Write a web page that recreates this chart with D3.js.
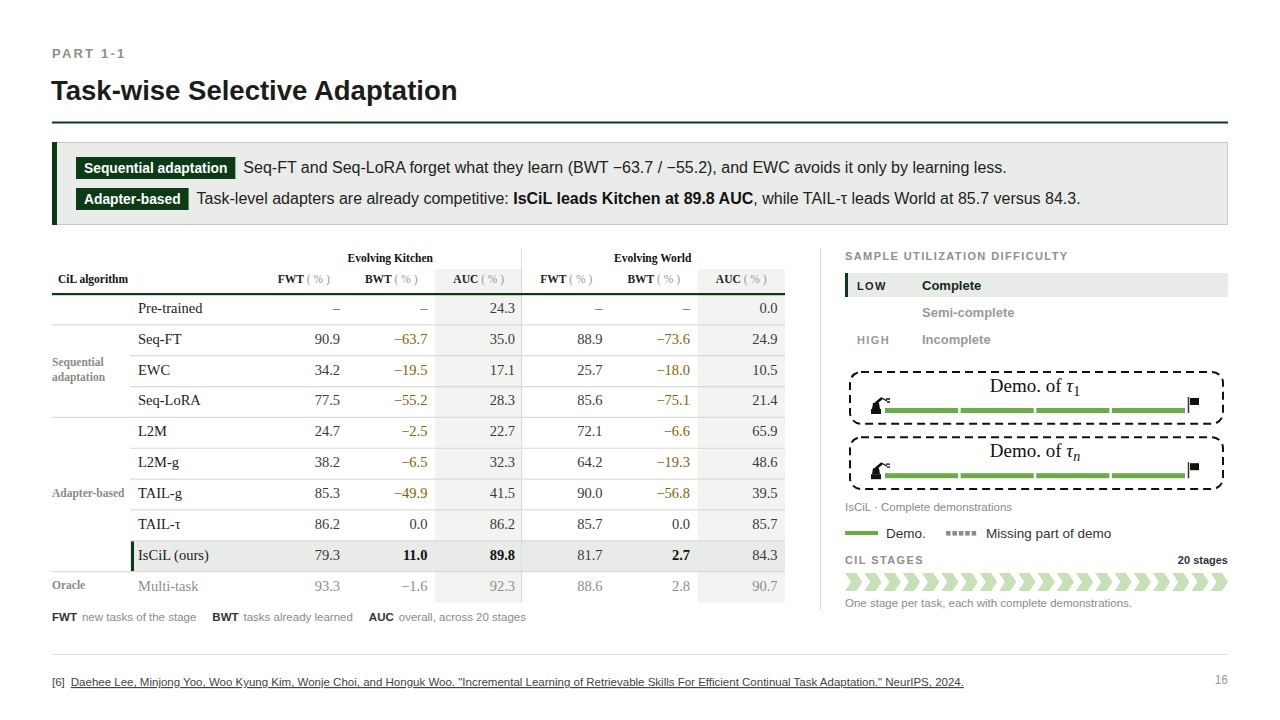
<!DOCTYPE html>
<html>
<head>
<meta charset="utf-8">
<script src="https://cdn.jsdelivr.net/npm/d3@7"></script>
<style>
  body { margin: 0; background: #fff; }
  svg { display: block; font-family: "Liberation Sans", Arial, sans-serif; }
</style>
</head>
<body>
<script>
// table data
const methods = ["Pre-trained", "Seq-FT", "EWC", "Seq-LoRA", "L2M", "L2M-g", "TAIL-g", "TAIL-τ", "IsCiL (ours)", "Multi-task"];
const groupNames = [["Sequential", "adaptation"], ["Adapter-based"], ["Oracle"]];
const groupRows = [["Seq-FT", "Seq-LoRA"], ["L2M", "IsCiL (ours)"], ["Multi-task", "Multi-task"]];
const metricCols = ["kFWT", "kBWT", "kAUC", "wFWT", "wBWT", "wAUC"];
const metricLabels = ["FWT", "BWT", "AUC", "FWT", "BWT", "AUC"];
const envNames = ["Evolving Kitchen", "Evolving World"];
const kitchenFWT = [null, 90.9, 34.2, 77.5, 24.7, 38.2, 85.3, 86.2, 79.3, 93.3];
const kitchenBWT = [null, -63.7, -19.5, -55.2, -2.5, -6.5, -49.9, 0.0, 11.0, -1.6];
const kitchenAUC = [24.3, 35.0, 17.1, 28.3, 22.7, 32.3, 41.5, 86.2, 89.8, 92.3];
const worldFWT = [null, 88.9, 25.7, 85.6, 72.1, 64.2, 90.0, 85.7, 81.7, 88.6];
const worldBWT = [null, -73.6, -18.0, -75.1, -6.6, -19.3, -56.8, 0.0, 2.7, 2.8];
const worldAUC = [0.0, 24.9, 10.5, 21.4, 65.9, 48.6, 39.5, 85.7, 84.3, 90.7];
const boldCells = ["IsCiL (ours)|kBWT", "IsCiL (ours)|kAUC", "IsCiL (ours)|wBWT"];
const legendTerms = [["FWT", "new tasks of the stage"], ["BWT", "tasks already learned"], ["AUC", "overall, across 20 stages"]];

// right panel data
const difficultyLevels = ["Complete", "Semi-complete", "Incomplete"];
const difficultyTags = ["LOW", "", "HIGH"];
const demoTasks = ["1", "n"];
const demoParts = ["demo", "demo", "demo", "demo"];
const stageCount = 20;

const W = 1280, H = 720;
const green = "#0c3a17", grey = "#8c8c84", serif = "'Liberation Serif', 'Times New Roman', serif";

const svg = d3.select("body").append("svg").attr("width", W).attr("height", H);

// ---- header
svg.append("text").attr("x", 52).attr("y", 58).text("PART 1-1")
  .style("font-size", "13px").style("font-weight", "bold").style("letter-spacing", "2.2px").attr("fill", "#8f8f86");
svg.append("text").attr("x", 51).attr("y", 100).text("Task-wise Selective Adaptation")
  .style("font-size", "27.5px").style("font-weight", "bold").attr("fill", "#1b1d1b");
svg.append("rect").attr("x", 52).attr("y", 121.5).attr("width", 1176).attr("height", 2).attr("fill", green);

// ---- callout
svg.append("rect").attr("x", 52.5).attr("y", 142.5).attr("width", 1175).attr("height", 82)
  .attr("fill", "#eaece9").attr("stroke", "#c6cac5");
svg.append("rect").attr("x", 52).attr("y", 142).attr("width", 5).attr("height", 83).attr("fill", green);

function badge(x, y, label) {
  const g = svg.append("g");
  const t = g.append("text").attr("x", x + 8).attr("y", y + 15.5).text(label)
    .style("font-size", "13.8px").style("font-weight", "bold").attr("fill", "#fff");
  const w = t.node().getComputedTextLength();
  g.insert("rect", "text").attr("x", x).attr("y", y).attr("width", w + 16).attr("height", 22).attr("fill", green);
  return x + w + 16;
}
let bx = badge(76, 157, "Sequential adaptation");
svg.append("text").attr("x", bx + 8).attr("y", 173).style("font-size", "16px").attr("fill", "#222")
  .text("Seq-FT and Seq-LoRA forget what they learn (BWT −63.7 / −55.2), and EWC avoids it only by learning less.");
bx = badge(76, 188, "Adapter-based");
const l2 = svg.append("text").attr("x", bx + 8).attr("y", 204).style("font-size", "16px").attr("fill", "#222");
l2.append("tspan").text("Task-level adapters are already competitive: ");
l2.append("tspan").style("font-weight", "bold").attr("fill", "#111").text("IsCiL leads Kitchen at 89.8 AUC");
l2.append("tspan").text(", while TAIL-τ leads World at 85.7 versus 84.3.");

// ---- table
const values = { kFWT: kitchenFWT, kBWT: kitchenBWT, kAUC: kitchenAUC, wFWT: worldFWT, wBWT: worldBWT, wAUC: worldAUC };
const x = d3.scaleBand().domain(metricCols).range([260, 785]);
const y = d3.scaleBand().domain(methods).range([294, 602.5]);
const tLeft = 52, mLeft = 130, tRight = 785;
const tbl = svg.append("g").style("font-family", serif);

// shaded AUC columns
tbl.selectAll("rect.auc").data(["kAUC", "wAUC"]).enter().append("rect")
  .attr("x", d => x(d)).attr("y", 269).attr("width", x.bandwidth()).attr("height", 602.5 - 269).attr("fill", "#f3f3f2");

// highlight row
tbl.append("rect").attr("x", mLeft).attr("y", y("IsCiL (ours)")).attr("width", tRight - mLeft).attr("height", y.bandwidth())
  .attr("fill", "#e9ebe8");
tbl.append("rect").attr("x", mLeft + 1).attr("y", y("IsCiL (ours)")).attr("width", 3).attr("height", y.bandwidth()).attr("fill", green);

// env separator
tbl.append("line").attr("x1", x("wFWT") - 1).attr("x2", x("wFWT") - 1).attr("y1", 248).attr("y2", 602.5)
  .attr("stroke", "#dcdcdc");

// env headers
envNames.forEach((e, i) => {
  const c0 = x(metricCols[i * 3]), c1 = x(metricCols[i * 3 + 2]) + x.bandwidth();
  tbl.append("text").attr("x", (c0 + c1) / 2 - 1).attr("y", 262).attr("text-anchor", "middle")
    .style("font-size", "11.5px").style("font-weight", "bold").attr("fill", "#111").text(e);
});
tbl.append("text").attr("x", 58).attr("y", 283).style("font-size", "11.5px").style("font-weight", "bold")
  .attr("fill", "#111").text("CiL algorithm");
const hd = tbl.selectAll("text.hd").data(metricCols).enter().append("text")
  .attr("x", d => x(d) + x.bandwidth() / 2).attr("y", 283).attr("text-anchor", "middle").style("font-size", "11.5px");
hd.append("tspan").style("font-weight", "bold").attr("fill", "#222").text((d, i) => metricLabels[i]);
hd.append("tspan").attr("fill", "#999").text(" ( % )");
tbl.append("rect").attr("x", tLeft).attr("y", 293).attr("width", tRight - tLeft).attr("height", 2.2).attr("fill", green);

// row lines
const fullAfter = ["Pre-trained", "Seq-LoRA", "IsCiL (ours)"];
tbl.selectAll("line.row").data(methods.slice(0, -1)).enter().append("line")
  .attr("x1", d => fullAfter.includes(d) ? tLeft : mLeft).attr("x2", tRight)
  .attr("y1", d => y(d) + y.bandwidth()).attr("y2", d => y(d) + y.bandwidth())
  .attr("stroke", "#d9dbd9").attr("stroke-width", 1.2);

// group labels
groupNames.forEach((lines, i) => {
  const top = y(groupRows[i][0]), bot = y(groupRows[i][1]) + y.bandwidth();
  const cy = (top + bot) / 2 - (lines.length - 1) * 7.5 + 2;
  const t = tbl.append("text").attr("x", tLeft).attr("y", cy).style("font-size", "11.5px")
    .style("font-weight", "bold").attr("fill", grey);
  lines.forEach((s, j) => t.append("tspan").attr("x", tLeft).attr("dy", j ? 15 : 0).text(s));
});

// method names
tbl.selectAll("text.m").data(methods).enter().append("text")
  .attr("x", 138).attr("y", d => y(d) + y.bandwidth() / 2 + 3.5).style("font-size", "14.5px")
  .attr("fill", d => d === "Multi-task" ? "#8e8e8e" : "#1c1c1c").text(d => d);

// cells
const cells = [];
methods.forEach((m, r) => metricCols.forEach(c => cells.push({ m, c, v: values[c][r] })));
const fmt = v => v == null ? "–" : (v < 0 ? "−" + d3.format(".1f")(-v) : d3.format(".1f")(v));
tbl.selectAll("text.cell").data(cells).enter().append("text")
  .attr("x", d => x(d.c) + x.bandwidth() - 7.5).attr("y", d => y(d.m) + y.bandwidth() / 2 + 3.5)
  .attr("text-anchor", "end").style("font-size", "14.5px")
  .style("font-weight", d => boldCells.includes(d.m + "|" + d.c) ? "bold" : "normal")
  .attr("fill", d => {
    if (d.m === "Multi-task") return "#8e8e8e";
    if (d.v == null) return "#666";
    if (boldCells.includes(d.m + "|" + d.c)) return "#111";
    if (d.c.endsWith("BWT") && d.v < 0) return "#8a6100";
    return "#3a3a3a";
  })
  .text(d => fmt(d.v));

// legend under table
const lg = svg.append("text").attr("x", 52).attr("y", 621).style("font-size", "11.5px");
legendTerms.forEach((t, i) => {
  lg.append("tspan").attr("dx", i ? 16 : 0).style("font-weight", "bold").attr("fill", "#333").text(t[0]);
  lg.append("tspan").attr("dx", 5).attr("fill", "#8a8a8a").text(t[1]);
});

// ---- right panel
svg.append("line").attr("x1", 820.5).attr("x2", 820.5).attr("y1", 248).attr("y2", 610).attr("stroke", "#dcdcdc");
const px = 845, pr = 1228;
const capStyle = s => s.style("font-size", "11px").style("font-weight", "bold").style("letter-spacing", "1.4px");
capStyle(svg.append("text").attr("x", px).attr("y", 260).attr("fill", "#8f8f86").text("SAMPLE UTILIZATION DIFFICULTY"));

const dy = d3.scaleBand().domain(difficultyLevels).range([273, 354]);
svg.append("rect").attr("x", px).attr("y", dy("Complete")).attr("width", pr - px).attr("height", 24).attr("fill", "#e9ebe8");
svg.append("rect").attr("x", px).attr("y", dy("Complete")).attr("width", 3).attr("height", 24).attr("fill", green);
difficultyLevels.forEach((lv, i) => {
  const cy = dy(lv) + 12 + 5;
  if (difficultyTags[i]) capStyle(svg.append("text").attr("x", 857).attr("y", cy - 0.5)
    .attr("fill", i === 0 ? "#1a2a1c" : "#999").style("letter-spacing", "1px").text(difficultyTags[i]));
  svg.append("text").attr("x", 922).attr("y", cy).style("font-size", "13px").style("font-weight", "bold")
    .attr("fill", i === 0 ? "#0f2a14" : "#9a9a9a").text(lv);
});

// demo boxes
const demoY = d3.scaleBand().domain(demoTasks).range([371, 489]).paddingInner(0.19);
const segX = d3.scaleBand().domain(d3.range(demoParts.length)).range([885, 1185]).paddingInner(0.035);
demoTasks.forEach(t => {
  const g = svg.append("g").attr("transform", `translate(0,${demoY(t)})`);
  g.append("rect").attr("x", 850).attr("y", 1).attr("width", 373).attr("height", demoY.bandwidth() - 1)
    .attr("rx", 11).attr("fill", "none").attr("stroke", "#111").attr("stroke-width", 2).attr("stroke-dasharray", "8 5");
  const tt = g.append("text").attr("x", 1035).attr("y", 21).attr("text-anchor", "middle")
    .style("font-family", serif).style("font-size", "19px").attr("fill", "#111");
  tt.append("tspan").text("Demo. of ");
  tt.append("tspan").style("font-style", "italic").text("τ");
  tt.append("tspan").attr("dy", 4).style("font-size", "14px").style("font-style", t === "n" ? "italic" : "normal").text(t);
  g.selectAll("rect.seg").data(demoParts).enter().append("rect")
    .attr("x", (d, i) => segX(i)).attr("y", 37).attr("width", segX.bandwidth()).attr("height", 5).attr("fill", "#6aac45");
  // robot arm
  const r = g.append("g").attr("transform", "translate(870,24)");
  r.append("rect").attr("x", 1).attr("y", 14).attr("width", 10).attr("height", 5).attr("fill", "#111");
  r.append("path").attr("d", "M2 14 L3 8 L9 8 L10 14 Z").attr("fill", "#111");
  r.append("path").attr("d", "M5 9 L12 3").attr("stroke", "#111").attr("stroke-width", 2.6);
  r.append("path").attr("d", "M12 3 L17 6 M16 4 L20 4 M17 7 L20 7").attr("stroke", "#111").attr("stroke-width", 1.3).attr("fill", "none");
  // flag
  g.append("line").attr("x1", 1188.5).attr("x2", 1188.5).attr("y1", 26).attr("y2", 42).attr("stroke", "#333").attr("stroke-width", 1.5);
  g.append("rect").attr("x", 1190).attr("y", 27).attr("width", 9).attr("height", 7).attr("fill", "#111");
});

svg.append("text").attr("x", px).attr("y", 511).style("font-size", "11.5px").attr("fill", "#8a8a8a")
  .text("IsCiL · Complete demonstrations");

// demo legend
svg.append("rect").attr("x", px).attr("y", 531).attr("width", 33).attr("height", 4).attr("fill", "#6aac45");
svg.append("text").attr("x", 886).attr("y", 538).style("font-size", "13.5px").attr("fill", "#333").text("Demo.");
svg.selectAll("rect.miss").data(d3.range(5)).enter().append("rect")
  .attr("x", d => 946 + d * 6.4).attr("y", 531).attr("width", 4.6).attr("height", 4.6).attr("fill", "#8c8c8c");
svg.append("text").attr("x", 986).attr("y", 538).style("font-size", "13.5px").attr("fill", "#333").text("Missing part of demo");

// stages
capStyle(svg.append("text").attr("x", px).attr("y", 564).attr("fill", "#8f8f86").text("CIL STAGES"));
svg.append("text").attr("x", pr).attr("y", 564).attr("text-anchor", "end").style("font-size", "11px")
  .style("font-weight", "bold").attr("fill", "#333").text(stageCount + " stages");
const sx = d3.scaleBand().domain(d3.range(stageCount)).range([px, pr]).paddingInner(0.1);
const cw = sx.bandwidth(), ch = 18, notch = 6;
svg.selectAll("path.chev").data(d3.range(stageCount)).enter().append("path")
  .attr("d", d => {
    const x0 = sx(d), y0 = 573;
    return `M${x0} ${y0} L${x0 + cw - notch} ${y0} L${x0 + cw} ${y0 + ch / 2} L${x0 + cw - notch} ${y0 + ch} L${x0} ${y0 + ch} L${x0 + notch} ${y0 + ch / 2} Z`;
  })
  .attr("fill", "#c6e1b6");
svg.append("text").attr("x", px).attr("y", 607).style("font-size", "11.5px").attr("fill", "#8a8a8a")
  .text("One stage per task, each with complete demonstrations.");

// ---- footer
svg.append("line").attr("x1", 52).attr("x2", 1228).attr("y1", 654.5).attr("y2", 654.5).attr("stroke", "#dde0dd");
const ft = svg.append("text").attr("x", 52).attr("y", 686).style("font-size", "11.5px").attr("fill", "#444");
ft.append("tspan").text("[6]");
ft.append("tspan").attr("dx", 6).style("text-decoration", "underline")
  .text("Daehee Lee, Minjong Yoo, Woo Kyung Kim, Wonje Choi, and Honguk Woo. \"Incremental Learning of Retrievable Skills For Efficient Continual Task Adaptation.\" NeurIPS, 2024.");
svg.append("text").attr("x", pr).attr("y", 684).attr("text-anchor", "end").style("font-size", "12px")
  .attr("fill", "#999").text("16");
</script>
</body>
</html>
